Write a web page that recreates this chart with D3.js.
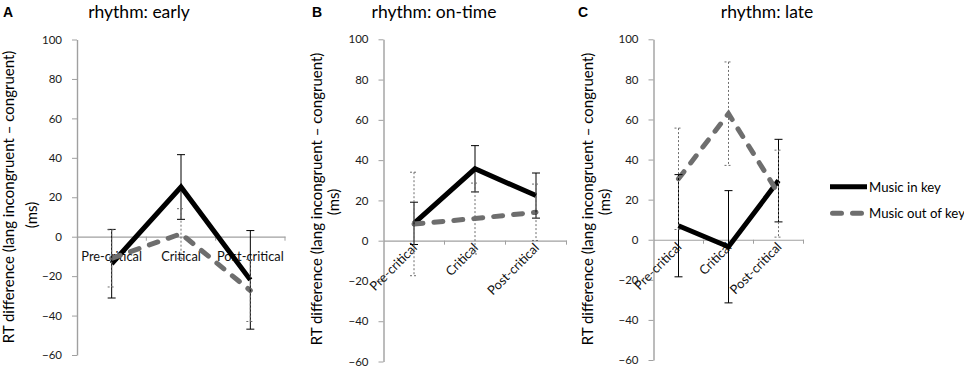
<!DOCTYPE html>
<html>
<head>
<meta charset="utf-8">
<script src="https://cdn.jsdelivr.net/npm/d3@7"></script>
<style>
  body { margin: 0; background: #fff; }
  svg { display: block; font-family: Lato, "Open Sans", sans-serif; }
</style>
</head>
<body>
<div id="chart"></div>
<script>
// data (ms)
const categories = [ "Pre-critical", "Critical", "Post-critical" ];
const yTickValues = [ -60, -40, -20, 0, 20, 40, 60, 80, 100 ];
const panelTitles = [ "rhythm: early", "rhythm: on-time", "rhythm: late" ];
const panelLetters = [ "A", "B", "C" ];
const seriesNames = [ "Music in key", "Music out of key" ];
const yTitleLines = [ "RT difference (lang incongruent \u2013 congruent)", "(ms)" ];

const earlyInKey = [ -13.7, 25.2, -21.9 ];
const earlyInKeyErr = [ 17.4, 16.4, 25.0 ];
const earlyOutKey = [ -11.0, 1.5, -27.3 ];
const earlyOutKeyErr = [ 14.5, 12.7, 15.7 ];

const onTimeInKey = [ 8.6, 35.7, 22.4 ];
const onTimeInKeyErr = [ 10.5, 11.5, 11.2 ];
const onTimeOutKey = [ 8.3, 11.0, 14.1 ];
const onTimeOutKeyErr = [ 25.7, 17.6, 14.0 ];

const lateInKey = [ 7.0, -3.5, 29.5 ];
const lateInKeyErr = [ 25.5, 28.0, 20.6 ];
const lateOutKey = [ 30.4, 62.9, 23.0 ];
const lateOutKeyErr = [ 25.3, 25.8, 21.7 ];

// panel geometry (pixels)
const layout = [
  { left: 77, right: 285, top: 39.5, bottom: 355, rotate: false,
    titleX: 139, letterX: 3, yTitleX: [ 14, 37 ], yTitleY: [ 197, 215 ] },
  { left: 383.5, right: 566.5, top: 39.3, bottom: 361.5, rotate: true,
    titleX: 434, letterX: 312, yTitleX: [ 322, 339 ], yTitleY: [ 199, 202 ] },
  { left: 653.5, right: 803.5, top: 39.3, bottom: 360, rotate: true,
    titleX: 767, letterX: 578, yTitleX: [ 593, 610 ], yTitleY: [ 199, 202 ] },
];

const axisGrey = "#a0a0a0";
const outGrey = "#6e6e6e";

const svg = d3.select( "#chart" )
  .append( "svg" )
  .attr( "width", 964 )
  .attr( "height", 371 );

drawPanel( layout[ 0 ], 0, earlyInKey, earlyInKeyErr, earlyOutKey, earlyOutKeyErr );
drawPanel( layout[ 1 ], 1, onTimeInKey, onTimeInKeyErr, onTimeOutKey, onTimeOutKeyErr );
drawPanel( layout[ 2 ], 2, lateInKey, lateInKeyErr, lateOutKey, lateOutKeyErr );
drawLegend( 830, 867, [ 186.7, 213.3 ] );

function drawPanel ( p, idx, inKey, inKeyErr, outKey, outKeyErr ) {
  const g = svg.append( "g" );

  // step1 scales
  const yScale = d3.scaleLinear()
    .domain( [ -60, 100 ] )
    .range( [ p.bottom, p.top ] );
  const xScale = d3.scaleBand()
    .domain( categories )
    .range( [ p.left, p.right ] );
  const cx = i => xScale( categories[ i ] ) + xScale.bandwidth() / 2;
  const y0 = yScale( 0 );

  // step2 y axis
  const yAxis = g.append( "g" )
    .attr( "transform", `translate(${p.left}, 0)` )
    .call( d3.axisLeft( yScale )
      .tickValues( yTickValues )
      .tickSize( 5 )
      .tickSizeOuter( 0 )
      .tickPadding( 10 )
    );
  yAxis.select( ".domain" ).attr( "stroke", axisGrey ).attr( "stroke-width", 1.4 );
  yAxis.selectAll( ".tick line" ).attr( "stroke", axisGrey );
  yAxis.selectAll( ".tick text" )
    .attr( "fill", "#1a1a1a" )
    .style( "font-size", "11.5px" )
    .style( "font-family", "Lato, sans-serif" );

  // step3 x axis at zero, ticks between categories
  const xAxis = g.append( "g" )
    .attr( "transform", `translate(0, ${y0})` )
    .call( d3.axisBottom( xScale )
      .tickSize( 0 )
      .tickFormat( "" )
    );
  xAxis.select( ".domain" ).attr( "stroke", axisGrey ).attr( "stroke-width", 1.2 );
  xAxis.selectAll( ".tick" ).remove();

  g.selectAll( ".band-tick" )
    .data( categories )
    .enter().append( "line" )
    .attr( "x1", d => xScale( d ) + xScale.bandwidth() )
    .attr( "x2", d => xScale( d ) + xScale.bandwidth() )
    .attr( "y1", y0 )
    .attr( "y2", y0 + 4 )
    .attr( "stroke", axisGrey );

  // category labels, flat on A, slanted on B and C
  const labels = g.selectAll( ".cat-label" )
    .data( categories )
    .enter().append( "text" )
    .text( d => d )
    .attr( "fill", "#111" )
    .style( "font-size", "12.8px" );
  if ( p.rotate ) {
    labels
      .attr( "text-anchor", "end" )
      .attr( "transform", ( d, i ) => `translate(${cx( i ) + 4}, ${y0 + 8}) rotate(-45)` );
  } else {
    labels
      .attr( "text-anchor", "middle" )
      .attr( "x", ( d, i ) => cx( i ) )
      .attr( "y", y0 + 24 );
  }

  // step4 lines
  const line = d3.line()
    .x( ( d, i ) => cx( i ) )
    .y( d => yScale( d ) );

  g.append( "path" )
    .datum( inKey )
    .attr( "d", line )
    .attr( "fill", "none" )
    .attr( "stroke", "#000" )
    .attr( "stroke-width", 5 )
    .attr( "stroke-linejoin", "miter" );

  g.append( "path" )
    .datum( outKey )
    .attr( "d", line )
    .attr( "fill", "none" )
    .attr( "stroke", outGrey )
    .attr( "stroke-width", 5 )
    .attr( "stroke-linecap", "round" )
    .attr( "stroke-dasharray", "9,11" );

  // step5 error bars
  errorBars( g, inKey, inKeyErr, cx, yScale, "#000", null );
  errorBars( g, outKey, outKeyErr, cx, yScale, outGrey, "2,2" );

  // titles
  svg.append( "text" )
    .attr( "x", p.titleX )
    .attr( "y", 18 )
    .attr( "text-anchor", "middle" )
    .attr( "fill", "#000" )
    .style( "font-size", "17.5px" )
    .text( panelTitles[ idx ] );

  svg.append( "text" )
    .attr( "x", p.letterX )
    .attr( "y", 17 )
    .attr( "fill", "#000" )
    .style( "font-family", "'Liberation Sans', Arial, sans-serif" )
    .style( "font-weight", "bold" )
    .style( "font-size", "14px" )
    .text( panelLetters[ idx ] );

  yTitleLines.forEach( ( t, k ) => {
    svg.append( "text" )
      .attr( "transform", `translate(${p.yTitleX[ k ]}, ${p.yTitleY[ k ]}) rotate(-90)` )
      .attr( "text-anchor", "middle" )
      .attr( "fill", "#000" )
      .style( "font-size", "15px" )
      .text( t );
  } );
}

function errorBars ( g, values, errs, cx, yScale, color, dash ) {
  const capHalf = 4;
  const bars = g.append( "g" )
    .attr( "stroke", color )
    .attr( "stroke-width", 1 )
    .attr( "stroke-dasharray", dash );

  values.forEach( ( v, i ) => {
    const x = cx( i );
    const hi = yScale( v + errs[ i ] );
    const lo = yScale( v - errs[ i ] );
    bars.append( "line" ).attr( "x1", x ).attr( "x2", x ).attr( "y1", hi ).attr( "y2", lo );
    bars.append( "line" ).attr( "x1", x - capHalf ).attr( "x2", x + capHalf ).attr( "y1", hi ).attr( "y2", hi );
    bars.append( "line" ).attr( "x1", x - capHalf ).attr( "x2", x + capHalf ).attr( "y1", lo ).attr( "y2", lo );
  } );
}

function drawLegend ( x1, x2, ys ) {
  const leg = svg.append( "g" );
  const styles = [
    { color: "#000", dash: null, cap: "butt" },
    { color: outGrey, dash: "9,11", cap: "round" },
  ];
  seriesNames.forEach( ( name, k ) => {
    leg.append( "line" )
      .attr( "x1", x1 + ( k ? 2.5 : 0 ) )
      .attr( "x2", x2 - ( k ? 2.5 : 0 ) )
      .attr( "y1", ys[ k ] )
      .attr( "y2", ys[ k ] )
      .attr( "stroke", styles[ k ].color )
      .attr( "stroke-width", 5 )
      .attr( "stroke-linecap", styles[ k ].cap )
      .attr( "stroke-dasharray", styles[ k ].dash );
    leg.append( "text" )
      .attr( "x", x2 + 2 )
      .attr( "y", ys[ k ] + 5 )
      .attr( "fill", "#000" )
      .style( "font-size", "13.2px" )
      .text( name );
  } );
}
</script>
</body>
</html>
